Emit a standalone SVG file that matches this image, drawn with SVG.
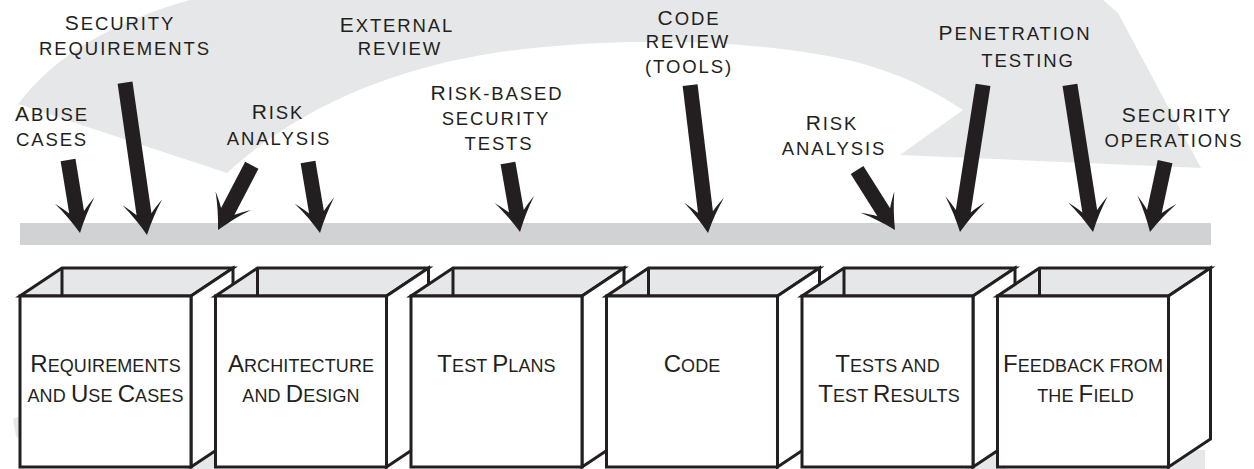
<svg xmlns="http://www.w3.org/2000/svg" width="1254" height="469" viewBox="0 0 1254 469">
<style>
.lbl{font-family:"Liberation Sans",Arial,sans-serif;font-size:18.5px;fill:#231f20;text-anchor:middle;letter-spacing:1.9px}
.blbl{font-family:"Liberation Sans",Arial,sans-serif;font-size:18px;fill:#231f20;text-anchor:middle;letter-spacing:0.1px}
.L{font-size:21px}
.B{font-size:24px}
.face{fill:#fff;stroke:#231f20;stroke-width:3;stroke-linejoin:miter}
.top{fill:#e6e7e8;stroke:#231f20;stroke-width:3;stroke-linejoin:miter}
.edge{stroke:#231f20;stroke-width:3;fill:none}
.arr{fill:#231f20}
</style>
<defs>
<path id="ahead" d="M0,0 C-6,-12 -12,-22 -20,-33 Q-12,-26 -7.5,-21 L7.5,-21 Q12,-26 20,-33 C12,-22 6,-12 0,0 Z"/>
</defs>
<rect width="1254" height="469" fill="#fff"/>
<g id="process-arrow">
<path d="M18,104 Q80,22 230,-10 L1080,-20 L1118,13 L1201,168 L900,155 L963,110 C940,95 910,77 860,63 C760,38 620,36 500,52 C380,70 290,115 227,173 Z" fill="#e6e7e8"/>
</g>
<g id="bottom-shade" fill="#e6e7e8">
<polygon points="13,419 20,416 20,440 16,436"/>
<rect x="185" y="445" width="35" height="24"/>
<rect x="965" y="445" width="40" height="24"/>
<rect x="1160" y="450" width="45" height="19"/>
</g>
<g id="labels">
<g id="lbl-abuse"><text class="lbl" x="52" y="121"><tspan class="L">A</tspan>BUSE</text><text class="lbl" x="52" y="146">CASES</text></g>
<g id="lbl-secreq"><text class="lbl" x="120" y="30"><tspan class="L">S</tspan>ECURITY</text><text class="lbl" x="125" y="55">REQUIREMENTS</text></g>
<g id="lbl-risk1"><text class="lbl" x="278" y="119"><tspan class="L">R</tspan>ISK</text><text class="lbl" x="279" y="145">ANALYSIS</text></g>
<g id="lbl-external"><text class="lbl" x="397" y="32"><tspan class="L">E</tspan>XTERNAL</text><text class="lbl" x="400" y="55">REVIEW</text></g>
<g id="lbl-rbst"><text class="lbl" x="497" y="100"><tspan class="L">R</tspan>ISK-BASED</text><text class="lbl" x="496" y="125">SECURITY</text><text class="lbl" x="499" y="150">TESTS</text></g>
<g id="lbl-codereview"><text class="lbl" x="689" y="25"><tspan class="L">C</tspan>ODE</text><text class="lbl" x="688" y="48">REVIEW</text><text class="lbl" x="689" y="73">(TOOLS)</text></g>
<g id="lbl-risk2"><text class="lbl" x="832" y="130"><tspan class="L">R</tspan>ISK</text><text class="lbl" x="834" y="155">ANALYSIS</text></g>
<g id="lbl-pentest"><text class="lbl" x="1015" y="40"><tspan class="L">P</tspan>ENETRATION</text><text class="lbl" x="1028" y="67">TESTING</text></g>
<g id="lbl-secops"><text class="lbl" x="1177" y="122"><tspan class="L">S</tspan>ECURITY</text><text class="lbl" x="1174" y="147">OPERATIONS</text></g>
</g>
<rect id="timeline-bar" x="20" y="223" width="1191" height="22" fill="#d1d2d4"/>
<g id="connectors" class="arr">
<g transform="translate(80,233) rotate(-9.3)"><use href="#ahead"/><rect x="-7.5" y="-74" width="15" height="55"/></g>
<g transform="translate(147,235) rotate(-8.2)"><use href="#ahead"/><rect x="-7.5" y="-154" width="15" height="135"/></g>
<g transform="translate(218,230) rotate(27.6)"><use href="#ahead"/><rect x="-7.5" y="-73" width="15" height="54"/></g>
<g transform="translate(320,233) rotate(-9.6)"><use href="#ahead"/><rect x="-7.5" y="-72" width="15" height="53"/></g>
<g transform="translate(520,232) rotate(-9.9)"><use href="#ahead"/><rect x="-7.5" y="-70" width="15" height="51"/></g>
<g transform="translate(708,233) rotate(-6.9)"><use href="#ahead"/><rect x="-7.5" y="-149" width="15" height="130"/></g>
<g transform="translate(895,230) rotate(-32.3)"><use href="#ahead"/><rect x="-7.5" y="-71" width="15" height="52"/></g>
<g transform="translate(960,232) rotate(8.9)"><use href="#ahead"/><rect x="-7.5" y="-149" width="15" height="130"/></g>
<g transform="translate(1093,232) rotate(-8.9)"><use href="#ahead"/><rect x="-7.5" y="-149" width="15" height="130"/></g>
<g transform="translate(1150,232) rotate(12.1)"><use href="#ahead"/><rect x="-7.5" y="-72" width="15" height="53"/></g>
</g>
<g id="box-requirements" transform="translate(20,0)">
<polygon class="top" points="0,296 42,268 213,268 171,296"/><line class="edge" x1="42" y1="268" x2="42" y2="296"/>
<polygon class="face" points="171,296 213,268 213,439 171,467"/><rect class="face" x="0" y="296" width="171" height="171"/>
<text class="blbl" x="85.5" y="372"><tspan class="B">R</tspan>EQUIREMENTS</text><text class="blbl" x="85.5" y="402">AND <tspan class="B">U</tspan>SE <tspan class="B">C</tspan>ASES</text>
</g>
<g id="box-architecture" transform="translate(215.5,0)">
<polygon class="top" points="0,296 42,268 213,268 171,296"/><line class="edge" x1="42" y1="268" x2="42" y2="296"/>
<polygon class="face" points="171,296 213,268 213,439 171,467"/><rect class="face" x="0" y="296" width="171" height="171"/>
<text class="blbl" x="85.5" y="372"><tspan class="B">A</tspan>RCHITECTURE</text><text class="blbl" x="85.5" y="402">AND <tspan class="B">D</tspan>ESIGN</text>
</g>
<g id="box-testplans" transform="translate(411,0)">
<polygon class="top" points="0,296 42,268 213,268 171,296"/><line class="edge" x1="42" y1="268" x2="42" y2="296"/>
<polygon class="face" points="171,296 213,268 213,439 171,467"/><rect class="face" x="0" y="296" width="171" height="171"/>
<text class="blbl" x="85.5" y="372"><tspan class="B">T</tspan>EST <tspan class="B">P</tspan>LANS</text>
</g>
<g id="box-code" transform="translate(606.5,0)">
<polygon class="top" points="0,296 42,268 213,268 171,296"/><line class="edge" x1="42" y1="268" x2="42" y2="296"/>
<polygon class="face" points="171,296 213,268 213,439 171,467"/><rect class="face" x="0" y="296" width="171" height="171"/>
<text class="blbl" x="85.5" y="372"><tspan class="B">C</tspan>ODE</text>
</g>
<g id="box-tests" transform="translate(802,0)">
<polygon class="top" points="0,296 42,268 213,268 171,296"/><line class="edge" x1="42" y1="268" x2="42" y2="296"/>
<polygon class="face" points="171,296 213,268 213,439 171,467"/><rect class="face" x="0" y="296" width="171" height="171"/>
<text class="blbl" x="85.5" y="372"><tspan class="B">T</tspan>ESTS AND</text><text class="blbl" x="87" y="402"><tspan class="B">T</tspan>EST <tspan class="B">R</tspan>ESULTS</text>
</g>
<g id="box-feedback" transform="translate(997.5,0)">
<polygon class="top" points="0,296 42,268 213,268 171,296"/><line class="edge" x1="42" y1="268" x2="42" y2="296"/>
<polygon class="face" points="171,296 213,268 213,439 171,467"/><rect class="face" x="0" y="296" width="171" height="171"/>
<text class="blbl" x="85.5" y="372"><tspan class="B">F</tspan>EEDBACK FROM</text><text class="blbl" x="88" y="402">THE <tspan class="B">F</tspan>IELD</text>
</g>
</svg>
